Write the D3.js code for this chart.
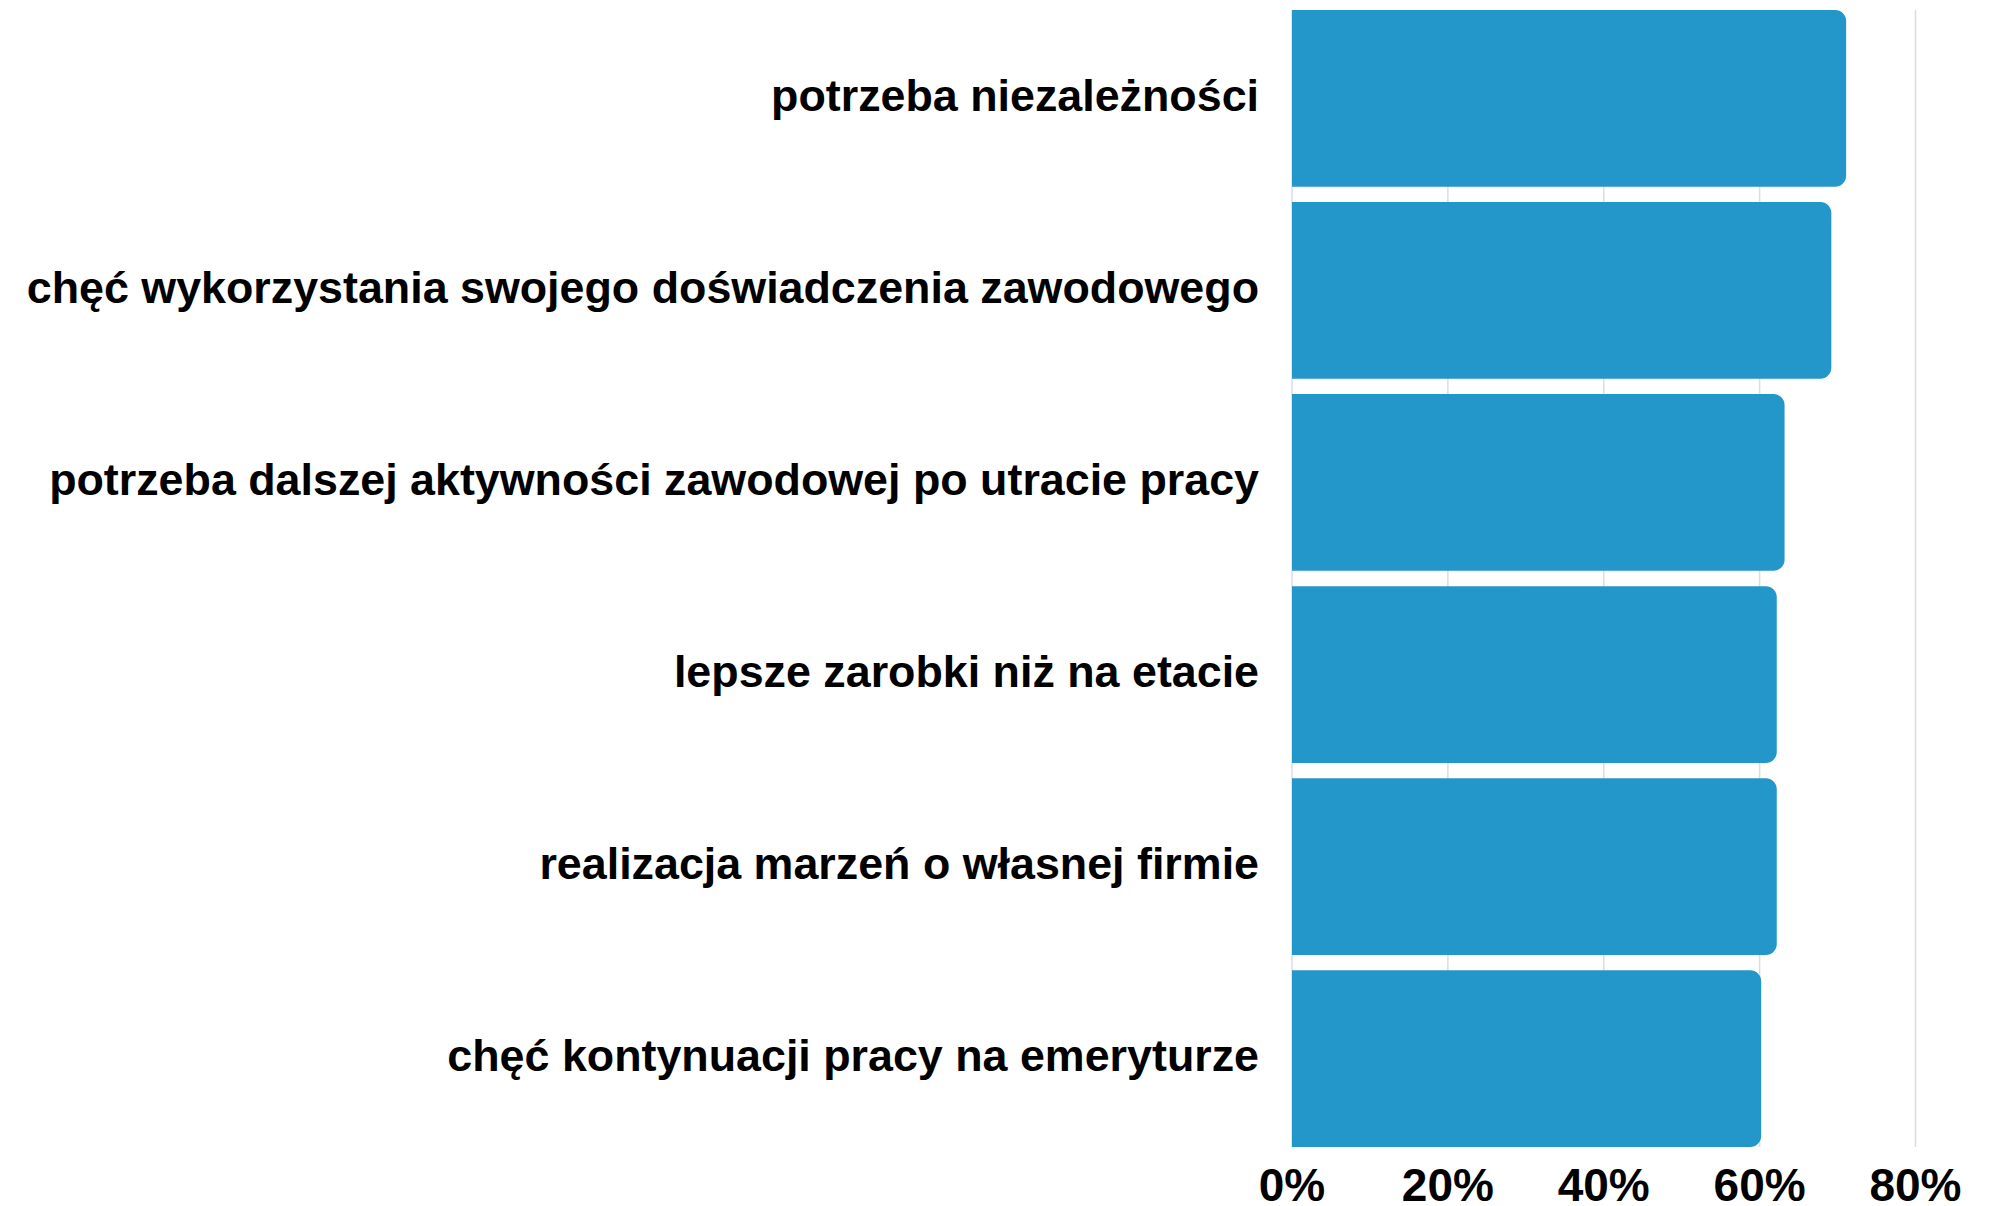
<!DOCTYPE html>
<html>
<head>
<meta charset="utf-8">
<script src="https://cdn.jsdelivr.net/npm/d3@7"></script>
<style>
  body { margin: 0; background: #fff; }
  svg { display: block; }
  .label { font-family: "Liberation Sans", Arial, sans-serif; font-weight: bold; fill: #000; }
</style>
</head>
<body>
<div id="chart"></div>
<script>
var categories = [
  "potrzeba niezależności",
  "chęć wykorzystania swojego doświadczenia zawodowego",
  "potrzeba dalszej aktywności zawodowej po utracie pracy",
  "lepsze zarobki niż na etacie",
  "realizacja marzeń o własnej firmie",
  "chęć kontynuacji pracy na emeryturze"
];
var values = [71.1, 69.2, 63.2, 62.2, 62.2, 60.2];
var ticks = [0, 20, 40, 60, 80];

var width = 2002, height = 1206;
var plotLeft = 1292, plotRight = 1915.5, plotTop = 10, plotBottom = 1147;

var x = d3.scaleLinear().domain([0, 80]).range([plotLeft, plotRight]);
var y = d3.scaleBand().domain(categories).range([plotTop, plotBottom]).paddingInner(0.08);

var svg = d3.select("#chart").append("svg").attr("width", width).attr("height", height);

// grid lines
svg.append("g").selectAll("line")
    .data(ticks)
  .enter().append("line")
    .attr("x1", function(d) { return x(d); })
    .attr("x2", function(d) { return x(d); })
    .attr("y1", plotTop)
    .attr("y2", plotBottom)
    .attr("stroke", "#dcdcdc")
    .attr("stroke-width", 1.5);

// bars: square on the left, rounded on the right
function barPath(d, i) {
  var x0 = x(0), x1 = x(d), y0 = y(categories[i]), h = y.bandwidth(), r = 11;
  return "M" + x0 + "," + y0 +
    "H" + (x1 - r) +
    "A" + r + "," + r + " 0 0 1 " + x1 + "," + (y0 + r) +
    "V" + (y0 + h - r) +
    "A" + r + "," + r + " 0 0 1 " + (x1 - r) + "," + (y0 + h) +
    "H" + x0 + "Z";
}

svg.append("g").selectAll("path")
    .data(values)
  .enter().append("path")
    .attr("d", barPath)
    .attr("fill", "#2497ca");

// category labels
svg.append("g").selectAll("text")
    .data(categories)
  .enter().append("text")
    .attr("class", "label")
    .attr("x", plotLeft - 33)
    .attr("y", function(d) { return y(d) + y.bandwidth() / 2 - 3; })
    .attr("dy", "0.35em")
    .attr("text-anchor", "end")
    .style("font-size", "44.8px")
    .text(function(d) { return d; });

// tick labels
svg.append("g").selectAll("text")
    .data(ticks)
  .enter().append("text")
    .attr("class", "label")
    .attr("x", function(d) { return x(d); })
    .attr("y", 1201)
    .attr("text-anchor", "middle")
    .style("font-size", "46px")
    .text(function(d) { return d + "%"; });
</script>
</body>
</html>
